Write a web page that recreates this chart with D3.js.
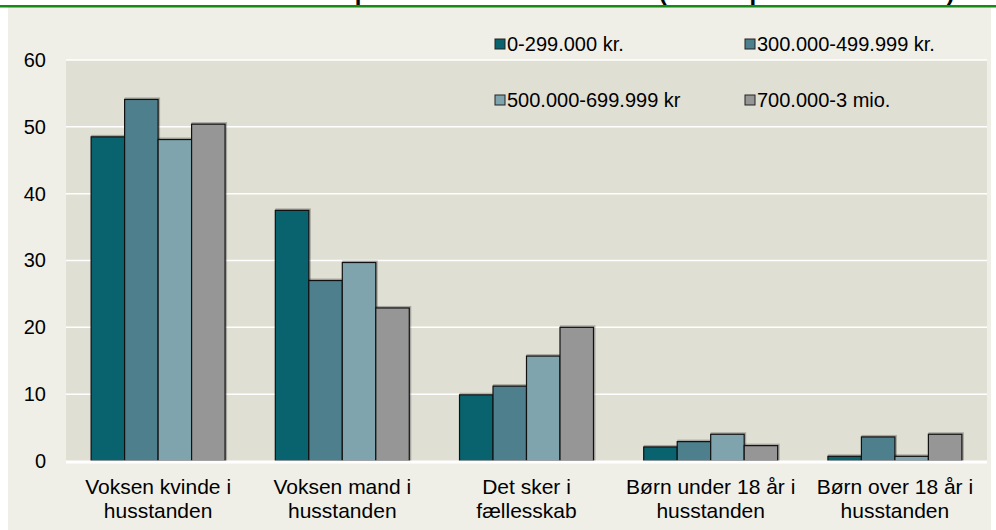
<!DOCTYPE html>
<html>
<head>
  <meta charset="utf-8">
  <script src="https://cdnjs.cloudflare.com/ajax/libs/d3/7.8.5/d3.min.js"></script>
  <style>
    body { margin: 0; background: white; }
    svg { display: block; font-family: "Liberation Sans", Arial, sans-serif; }
  </style>
</head>
<body>
  <script>
    const categories = [
      ['Voksen kvinde i', 'husstanden'],
      ['Voksen mand i', 'husstanden'],
      ['Det sker i', 'fællesskab'],
      ['Børn under 18 år i', 'husstanden'],
      ['Børn over 18 år i', 'husstanden']
    ]
    const seriesNames = ['0-299.000 kr.', '300.000-499.999 kr.', '500.000-699.999 kr', '700.000-3 mio.']
    const s1 = [48.5, 37.5, 9.9, 2.1, 0.7]
    const s2 = [54.1, 27.0, 11.2, 2.9, 3.6]
    const s3 = [48.1, 29.7, 15.7, 4.0, 0.7]
    const s4 = [50.4, 22.9, 20.0, 2.3, 4.0]
    const yTicks = [0, 10, 20, 30, 40, 50, 60]
    const title = 'Hvem står primært for maden i huset (andel i pct. af husstande)'

    const series = [s1, s2, s3, s4]
    const colors = ['#08636f', '#4e7f8c', '#7fa4ad', '#969696']

    const W = 996, H = 530
    const svg = d3.select('body').append('svg').attr('width', W).attr('height', H)

    // outer panel + green rule (title sits above the top edge, as in the source)
    svg.append('rect').attr('x', 8).attr('y', 7).attr('width', 983).attr('height', H - 7).attr('fill', '#efefe8')
    svg.append('text').attr('x', 232).attr('y', 0).attr('font-size', 24).attr('font-weight', 'bold')
      .attr('fill', 'black').text(title)
    svg.append('rect').attr('x', 0).attr('y', 5).attr('width', W).attr('height', 2.5).attr('fill', '#168a16')

    const x0 = d3.scaleBand().domain(d3.range(categories.length)).range([66, 987])
    const x1 = d3.scaleBand().domain(d3.range(series.length)).range([0, x0.bandwidth()]).paddingOuter(0.75)
    const y = d3.scaleLinear().domain([0, 60]).range([461, 60])

    // plot background
    svg.append('rect').attr('x', 66).attr('y', y(60)).attr('width', 987 - 66).attr('height', y(0) - y(60))
      .attr('fill', '#e0dfd4')

    // gridlines
    svg.append('g').selectAll('line').data(yTicks.filter(d => d > 0)).join('line')
      .attr('x1', 66).attr('x2', 987).attr('y1', d => y(d)).attr('y2', d => y(d))
      .attr('stroke', 'white').attr('stroke-width', 1.5)

    // y axis labels
    const yAxis = svg.append('g').attr('transform', 'translate(46,0)')
      .call(d3.axisLeft(y).tickValues(yTicks).tickSize(0).tickPadding(0))
    yAxis.select('.domain').remove()
    yAxis.selectAll('text').attr('font-size', 20).attr('fill', 'black')
      .attr('font-family', '"Liberation Sans", Arial, sans-serif')

    // legend
    const legendPos = [[495, 44], [745, 44], [495, 100], [745, 100]]
    const legend = svg.append('g').selectAll('g').data(seriesNames).join('g')
      .attr('transform', (d, i) => `translate(${legendPos[i][0]},${legendPos[i][1]})`)
    legend.append('rect').attr('x', 0).attr('y', -5).attr('width', 10).attr('height', 10)
      .attr('fill', (d, i) => colors[i]).attr('stroke', '#222').attr('stroke-width', 1)
    legend.append('text').attr('x', 12).attr('y', 7).attr('font-size', 20).attr('fill', 'black').text(d => d)

    // bars
    const groups = svg.append('g').selectAll('g').data(categories).join('g')
      .attr('transform', (d, i) => `translate(${x0(i)},0)`)
    groups.selectAll('rect.shadow').data((d, i) => series.map(s => s[i])).join('rect')
      .attr('class', 'shadow')
      .attr('x', (d, j) => x1(j) + 1).attr('y', d => y(d) - 1)
      .attr('width', x1.bandwidth()).attr('height', d => y(0) - y(d) + 1)
      .attr('fill', 'none').attr('stroke', 'rgba(0,0,0,0.25)').attr('stroke-width', 2)
    groups.selectAll('rect.bar').data((d, i) => series.map(s => s[i])).join('rect')
      .attr('class', 'bar')
      .attr('x', (d, j) => x1(j)).attr('y', d => y(d))
      .attr('width', x1.bandwidth()).attr('height', d => y(0) - y(d))
      .attr('fill', (d, j) => colors[j]).attr('stroke', '#111').attr('stroke-width', 1.2)

    // baseline
    svg.append('line').attr('x1', 66).attr('x2', 987).attr('y1', y(0) + 1).attr('y2', y(0) + 1)
      .attr('stroke', 'white').attr('stroke-width', 3)

    // category labels
    const catLabels = svg.append('g').selectAll('text').data(categories).join('text')
      .attr('x', (d, i) => x0(i) + x0.bandwidth() / 2).attr('text-anchor', 'middle')
      .attr('font-size', 21).attr('fill', 'black')
    catLabels.selectAll('tspan').data(d => d).join('tspan')
      .attr('x', function () { return d3.select(this.parentNode).attr('x') })
      .attr('y', (d, k) => 494 + k * 24).text(d => d)
  </script>
</body>
</html>
